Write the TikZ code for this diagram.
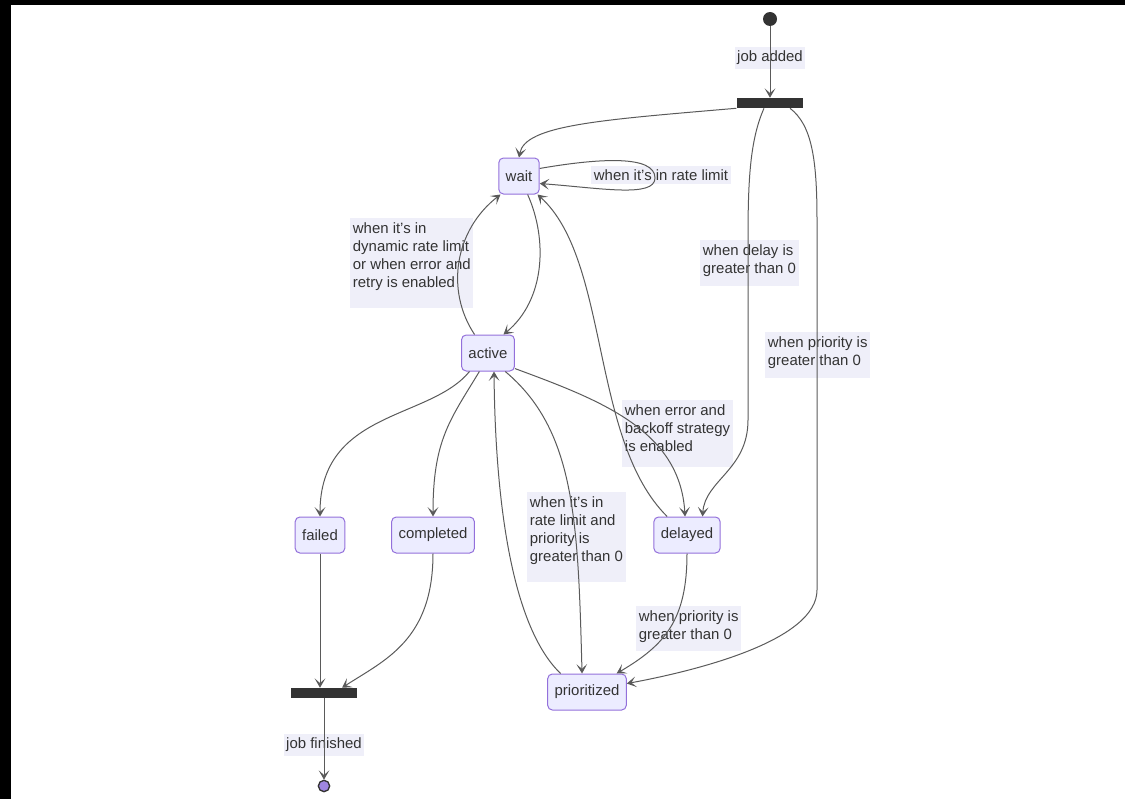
\documentclass[tikz,border=0pt]{standalone}
\usepackage{xcolor}
\usepackage{fontspec}
\setmainfont{Liberation Sans}
\usetikzlibrary{arrows.meta,calc,positioning}

\definecolor{statefill}{HTML}{ECECFF}
\definecolor{stateline}{HTML}{9370DB}
\definecolor{inkgray}{HTML}{333333}
\definecolor{edgegray}{HTML}{5A5A5A}
\definecolor{labelbg}{HTML}{EFEFF9}
\definecolor{endfill}{HTML}{9F86E0}

\tikzset{
  state/.style={rectangle, rounded corners=3.5pt, draw=stateline, fill=statefill,
    line width=0.75pt, inner xsep=5.2pt, minimum height=27pt, text=inkgray},
  bar/.style={rectangle, fill=inkgray, minimum width=50pt, minimum height=7.5pt, inner sep=0pt},
  elabel/.style={fill=labelbg, align=left, inner xsep=2pt, inner ysep=3pt, text=inkgray},
  trans/.style={draw=edgegray, line width=0.75pt, -{Stealth[length=7pt,width=8pt,inset=3.5pt]}},
}

\begin{document}
\begin{tikzpicture}[x=0.75pt, y=-0.75pt, font=\fontsize{11.2pt}{13.5pt}\selectfont]
\useasboundingbox (0,0) rectangle (1125,799);
\fill[black] (0,0) rectangle (1125,5);
\fill[black] (0,0) rectangle (11,799);

% states
\node[circle, fill=inkgray, minimum size=10.5pt, inner sep=0pt] (start) at (770,19) {};
\node[bar] (fork) at (770,103) {};
\node[state] (wait) at (519,176) {wait};
\node[state] (active) at (488,353) {active};
\node[state] (failed) at (320,535) {failed};
\node[state] (completed) at (433,535) {completed};
\node[state] (delayed) at (687,535) {delayed};
\node[state] (prioritized) at (587,692) {prioritized};
\node[bar] (join) at (324,693) {};
\node[circle, draw=inkgray, fill=endfill, line width=1pt, minimum size=8.5pt, inner sep=0pt] (finish) at (324,786) {};

% labels
\node[elabel] (lbladded) at (770,58) {job added};
\node[elabel] (lblratelimit) at (661,175) {when it's in rate limit};
\node[elabel, anchor=north west, text depth=13pt] (lbldynamic) at (350,218) {when it's in\\dynamic rate limit\\or when error and\\retry is enabled};
\node[elabel, anchor=north west, text depth=7pt] (lbldelay) at (700,240) {when delay is\\greater than 0};
\node[elabel, anchor=north west, text depth=7pt] (lblprio) at (765,332) {when priority is\\greater than 0};
\node[elabel, anchor=north west, text depth=9pt] (lblbackoff) at (622,400) {when error and\\backoff strategy\\is enabled};
\node[elabel, anchor=north west, text depth=13pt] (lblrateprio) at (527,492) {when it's in\\rate limit and\\priority is\\greater than 0};
\node[elabel, anchor=north west, text depth=6pt] (lbldelprio) at (636,606) {when priority is\\greater than 0};
\node[elabel] (lblfinished) at (324,745) {job finished};

% transitions
\draw[trans] (start) -- (fork);
\draw[trans] (fork.south west) .. controls (600,120) and (525,125) .. (wait.north);
\draw[trans] ($(fork.south)+(-6,0)$) .. controls (750,140) and (748,180) .. (748,240)
  -- (748,420) .. controls (748,470) and (705,480) .. (delayed.50);
\draw[trans] ($(fork.south)+(20,0)$) .. controls (812,125) and (817,160) .. (817,220)
  -- (817,590) .. controls (817,640) and (700,670) .. (prioritized.12);
\draw[trans] (wait.20) .. controls (600,158) and (655,155) .. (655,178)
  .. controls (655,198) and (600,188) .. (wait.-20);
\draw[trans] (wait.-65) .. controls (548,240) and (545,300) .. (active.50);
\draw[trans] (active.126) .. controls (445,290) and (455,230) .. (wait.225);
\draw[trans] (delayed.137) .. controls (590,440) and (610,260) .. (wait.-45);
\draw[trans] (active.-30) .. controls (600,400) and (680,430) .. (delayed.96);
\draw[trans] (active.225) .. controls (430,420) and (320,410) .. (failed.north);
\draw[trans] (active.-115) .. controls (450,420) and (433,440) .. (completed.north);
\draw[trans] (active.-47) .. controls (575,430) and (578,520) .. (prioritized.105);
\draw[trans] (prioritized.145) .. controls (505,620) and (495,470) .. (active.-72);
\draw[trans] (delayed.south) .. controls (687,620) and (665,645) .. (prioritized.32);
\draw[trans] (failed.south) -- (failed.south |- join.north);
\draw[trans] (completed.south) .. controls (433,640) and (385,660) .. ($(join.north)+(18,0)$);
\draw[trans] (join) -- (finish);
\end{tikzpicture}
\end{document}
